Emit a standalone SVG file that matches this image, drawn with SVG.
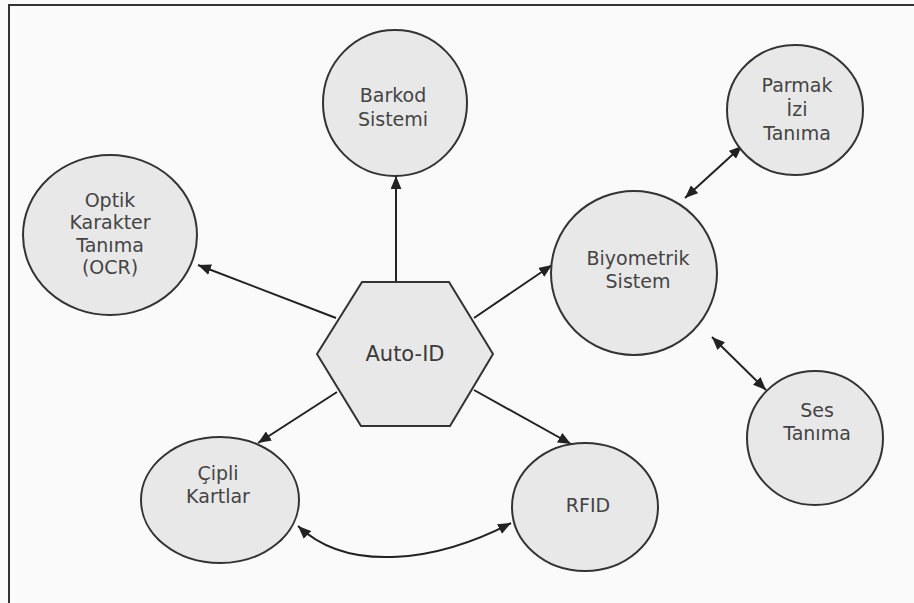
<svg xmlns="http://www.w3.org/2000/svg" width="914" height="603" viewBox="0 0 914 603">
<defs>
<marker id="ah" viewBox="0 0 12 10" refX="12" refY="5" markerWidth="13" markerHeight="11" markerUnits="userSpaceOnUse" orient="auto-start-reverse">
<path d="M0 0 L12 5 L0 10 Z" fill="#222"/>
</marker>
</defs>
<style>
.bg{fill:#fafafa}
.frame{stroke:#333;stroke-width:2;fill:none}
.node{fill:#e8e8e8;stroke:#333;stroke-width:2}
.lbl{font-family:"DejaVu Sans",Verdana,sans-serif;font-size:19px;fill:#444;text-anchor:middle}
.hexlbl{font-family:"DejaVu Sans",Verdana,sans-serif;font-size:21px;fill:#3a3a3a;text-anchor:middle}
.edge{stroke:#222;stroke-width:2;fill:none;marker-end:url(#ah)}
.both{marker-start:url(#ah)}
</style>
<rect class="bg" x="0" y="0" width="914" height="603"/>
<path class="frame" d="M9 603 L9 5 L914 5"/>
<g id="connectors">
<path class="edge" d="M396 282 L396 176"/>
<path class="edge" d="M336 318 L198 265"/>
<path class="edge" d="M474 318 L552 265"/>
<path class="edge" d="M337 392 L258 443"/>
<path class="edge" d="M474 390 L571 444"/>
<path class="edge both" d="M742 146 L685 198"/>
<path class="edge both" d="M712 337 L766 390"/>
<path class="edge both" d="M298 526 C350 575 440 560 511 523"/>
</g>
<g id="auto-id">
<polygon class="node" points="362,282 449,282 493,354 450,426 361,426 317,354"/>
<text class="hexlbl" x="405" y="361">Auto-ID</text>
</g>
<g id="barkod">
<ellipse class="node" cx="395" cy="103" rx="72" ry="73"/>
<text class="lbl" x="393" y="102">Barkod</text>
<text class="lbl" x="393" y="126">Sistemi</text>
</g>
<g id="optik">
<ellipse class="node" cx="110" cy="235" rx="87" ry="80"/>
<text class="lbl" x="110" y="207">Optik</text>
<text class="lbl" x="110" y="229">Karakter</text>
<text class="lbl" x="110" y="252">Tanıma</text>
<text class="lbl" x="110" y="274">(OCR)</text>
</g>
<g id="parmak">
<ellipse class="node" cx="795" cy="110" rx="68" ry="65"/>
<text class="lbl" x="797" y="92">Parmak</text>
<text class="lbl" x="797" y="116">İzi</text>
<text class="lbl" x="797" y="140">Tanıma</text>
</g>
<g id="biyometrik">
<ellipse class="node" cx="634" cy="273" rx="83" ry="82"/>
<text class="lbl" x="638" y="265">Biyometrik</text>
<text class="lbl" x="638" y="288">Sistem</text>
</g>
<g id="ses">
<ellipse class="node" cx="815" cy="438" rx="68" ry="67"/>
<text class="lbl" x="817" y="417">Ses</text>
<text class="lbl" x="817" y="440">Tanıma</text>
</g>
<g id="cipli">
<ellipse class="node" cx="220" cy="500" rx="79" ry="63"/>
<text class="lbl" x="218" y="480">Çipli</text>
<text class="lbl" x="218" y="503">Kartlar</text>
</g>
<g id="rfid">
<ellipse class="node" cx="585" cy="507" rx="73" ry="64"/>
<text class="lbl" x="588" y="512">RFID</text>
</g>
</svg>
